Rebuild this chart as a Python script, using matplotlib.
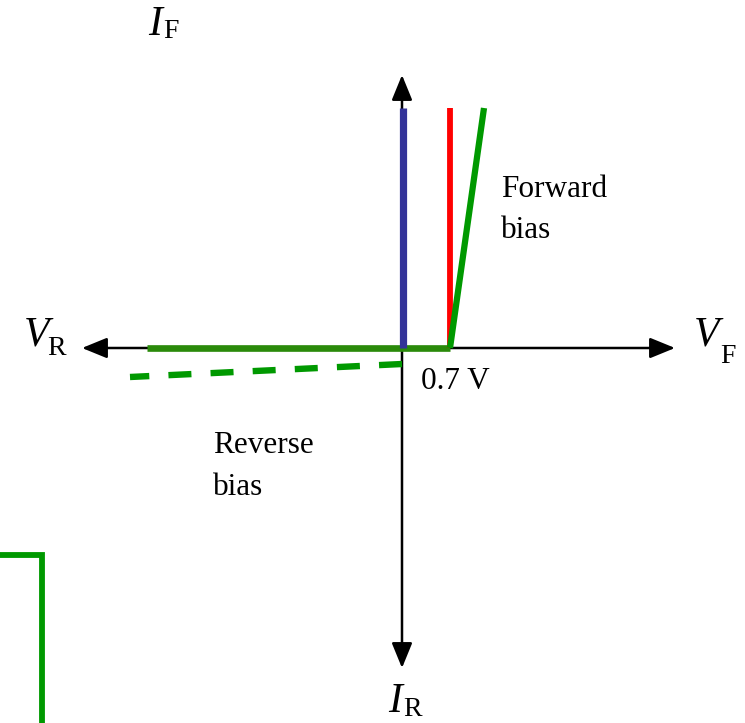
import matplotlib.pyplot as plt
from matplotlib.patches import FancyArrowPatch

# pixel-like coordinates of the sketch (x right, y down)
axis_h_x = [82, 675]
axis_h_y = 348
axis_v_x = 402
axis_v_y = [75, 668]

ideal_x = [403, 403]
ideal_y = [348, 108]
offset_x = [450, 450]
offset_y = [348, 108]
fwd_x = [147, 450, 484]
fwd_y = [348, 348, 108]
rev_x = [402, 130]
rev_y = [364, 377]
box_x = [0, 42, 42]
box_y = [555, 555, 723]

plt.rcParams['font.family'] = ['Liberation Serif', 'DejaVu Serif']

fig = plt.figure(figsize=(7.45, 7.23), dpi=100)
ax = fig.add_axes([0, 0, 1, 1])
ax.set_xlim(0, 745)
ax.set_ylim(723, 0)
ax.axis('off')

# axes with arrows
for a, b in [((axis_v_x, axis_h_y), (axis_h_x[0], axis_h_y)),
             ((axis_v_x, axis_h_y), (axis_h_x[1], axis_h_y)),
             ((axis_v_x, axis_h_y), (axis_v_x, axis_v_y[0])),
             ((axis_v_x, axis_h_y), (axis_v_x, axis_v_y[1]))]:
    ax.add_patch(FancyArrowPatch(a, b, arrowstyle='-|>,head_length=1.1,head_width=0.45',
                                 mutation_scale=14, color='black', lw=1.8,
                                 shrinkA=0, shrinkB=0, zorder=2))

ax.plot(fwd_x[:2], fwd_y[:2], color='#2a8a0a', lw=4.8, solid_capstyle='butt', zorder=3)
ax.plot(ideal_x, ideal_y, color='#333399', lw=5.2, solid_capstyle='butt', zorder=4)
ax.plot(offset_x, offset_y, color='#ff0000', lw=4.2, solid_capstyle='butt', zorder=4)
ax.plot(fwd_x[1:], fwd_y[1:], color='#009900', lw=4.5, solid_capstyle='butt', zorder=5)
ax.plot(rev_x, rev_y, color='#009900', lw=4.6, dashes=(3.6, 3.0), dash_capstyle='butt', zorder=3)
ax.plot(box_x, box_y, color='#009900', lw=4.2, solid_joinstyle='miter', zorder=3)

# axis labels (italic letter + upright subscript), anchored at baseline
big = 30
sub = 20
ax.text(24, 345, 'V', fontsize=big, style='italic', ha='left', va='baseline')
ax.text(47, 355, 'R', fontsize=sub, ha='left', va='baseline')
ax.text(694, 345, 'V', fontsize=big, style='italic', ha='left', va='baseline')
ax.text(720, 363, 'F', fontsize=sub, ha='left', va='baseline')
ax.text(148, 35, 'I', fontsize=big, style='italic', ha='left', va='baseline')
ax.text(163, 38, 'F', fontsize=sub, ha='left', va='baseline')
ax.text(388, 712, 'I', fontsize=big, style='italic', ha='left', va='baseline')
ax.text(403, 716, 'R', fontsize=sub, ha='left', va='baseline')

ax.text(421, 389, '0.7 V', fontsize=22.5, ha='left', va='baseline')
ax.text(501, 197, 'Forward', fontsize=22.5, ha='left', va='baseline')
ax.text(501, 238, 'bias', fontsize=22.5, ha='left', va='baseline')
ax.text(213, 453, 'Reverse', fontsize=22.5, ha='left', va='baseline')
ax.text(213, 495, 'bias', fontsize=22.5, ha='left', va='baseline')

fig.savefig('out.png', dpi=100)
